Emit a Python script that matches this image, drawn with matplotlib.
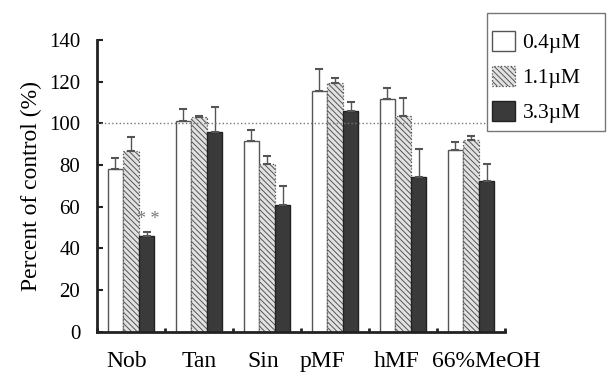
import matplotlib
matplotlib.use("Agg")
import matplotlib.pyplot as plt
import matplotlib.transforms as mtrans
from matplotlib.patches import Rectangle
import numpy as np

categories = ["Nob", "Tan", "Sin", "pMF", "hMF", "66%MeOH"]
series_labels = ["0.4\u00b5M", "1.1\u00b5M", "3.3\u00b5M"]
vals_04 = [78, 101, 91.7, 115.4, 111.9, 87.2]
vals_11 = [86.7, 103, 80.6, 119.4, 103.7, 92]
vals_33 = [46, 96, 61, 106, 74.3, 72.3]
err_04 = [5.2, 6, 5.1, 10.9, 5.1, 3.8]
err_11 = [6.8, 0.5, 3.7, 2.6, 8.3, 2.0]
err_33 = [2.0, 12, 9, 4.4, 13.2, 8.3]
yticks = [0, 20, 40, 60, 80, 100, 120, 140]

plt.rcParams['font.family'] = ['Liberation Serif', 'DejaVu Serif']
plt.rcParams['hatch.linewidth'] = 0.7

fig = plt.figure(figsize=(6.08, 3.72), dpi=100)
ax = fig.add_axes([97/608, 1-331.7/372, 408/608, 291.7/372])

x = np.arange(len(categories))
w = 0.23
styles = [
    dict(facecolor='white', edgecolor='#555555', linewidth=1.0),
    dict(facecolor='#e2e2e2', edgecolor='#555555', linewidth=0.9, hatch='\\\\\\\\\\\\', linestyle=':'),
    dict(facecolor='#3a3a3a', edgecolor='#222222', linewidth=1.0),
]
vals = [vals_04, vals_11, vals_33]
errs = [err_04, err_11, err_33]
for i in range(3):
    xs = x + (i - 1) * w
    ax.bar(xs, vals[i], width=w, label=series_labels[i], zorder=2, **styles[i])
    ax.errorbar(xs, vals[i], yerr=[np.zeros(len(xs)), errs[i]], fmt='none',
                ecolor='#555555', elinewidth=1.0, capsize=3, capthick=1.5, zorder=3)

ax.text(x[0] + w + 0.02, vals_33[0] + 8, "* *", ha='center', va='center', fontsize=13, color='#777777')

ax.set_xlim(-0.5, len(categories) - 0.5)
ax.set_ylim(0, 140)
ax.set_yticks(yticks)
ax.set_xticks(x)
ax.set_xticklabels(categories, fontsize=17)
ax.set_xticks(np.arange(-0.5, len(categories)), minor=True)
ax.tick_params(axis='x', which='major', length=0, pad=14)
ax.tick_params(axis='x', which='minor', direction='in', length=3, width=2, color='#222222')
ax.tick_params(axis='y', direction='in', length=4, width=1.5, labelsize=15, pad=12, color='#222222')

# horizontal nudges of the category labels (pixels), as in the reference
label_shift_px = [-4, 0, -3.5, -12, -6, 15.5]
for lbl, dx in zip(ax.get_xticklabels(), label_shift_px):
    lbl.set_transform(lbl.get_transform() + mtrans.ScaledTranslation(dx / 100, 0, fig.dpi_scale_trans))

for s in ['top', 'right']:
    ax.spines[s].set_visible(False)
for s in ['left', 'bottom']:
    ax.spines[s].set_linewidth(2)
    ax.spines[s].set_color('#222222')
ax.set_ylabel("Percent of control (%)", fontsize=17, labelpad=5)

ax.plot([-0.5, 5.38], [100, 100], linestyle=':', color='#777777', linewidth=1.0, zorder=6, clip_on=False)

fig.patches.append(Rectangle((487/608, 1-131/372), 118/608, 118/372, transform=fig.transFigure,
                             facecolor='white', edgecolor='#777777', linewidth=1.0, zorder=4))
leg = fig.legend(loc='upper left', bbox_to_anchor=(492/608, 1-31/372), bbox_transform=fig.transFigure,
                 borderaxespad=0, borderpad=0, fontsize=15.5, handlelength=1.07, handleheight=1.02,
                 labelspacing=0.6, handletextpad=0.35, frameon=False)
leg.set_zorder(5)

fig.savefig("out.png", dpi=100)
